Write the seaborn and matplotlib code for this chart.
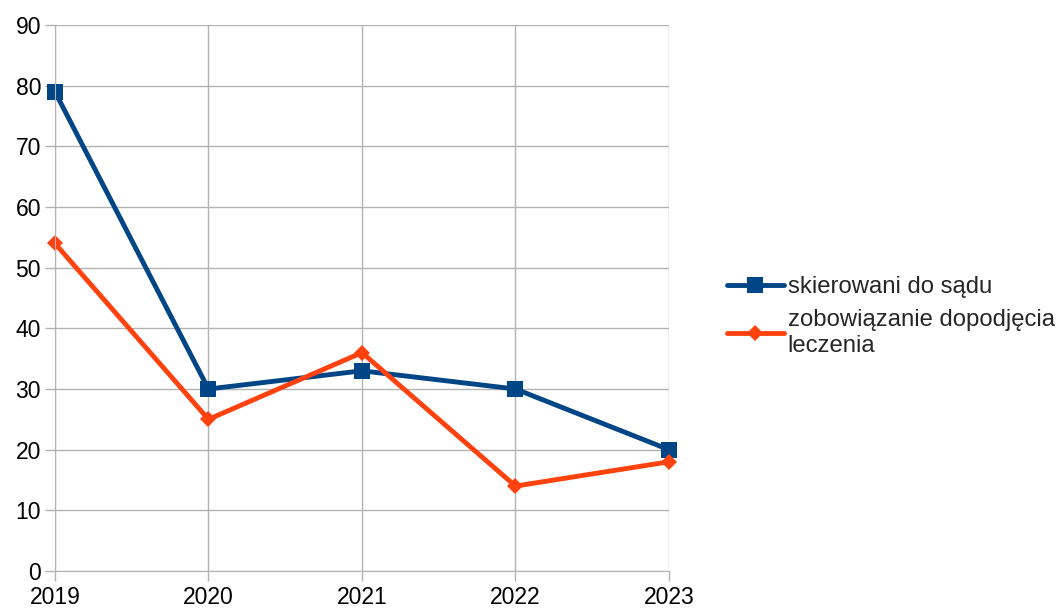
import pandas as pd
import seaborn as sns
import matplotlib.pyplot as plt

years = [2019, 2020, 2021, 2022, 2023]
skierowani = [79, 30, 33, 30, 20]
zobowiazanie = [54, 25, 36, 14, 18]
labels = ["skierowani do sądu", "zobowiązanie dopodjęcia\nleczenia"]

sns.set_style("white")
plt.rcParams['font.family'] = ['Liberation Sans', 'DejaVu Sans']

fig = plt.figure(figsize=(10.61, 6.13), dpi=100)
ax = fig.add_axes([0.0518, 0.0685, 0.5787, 0.8907])

sns.lineplot(x=years, y=skierowani, ax=ax, color="#004586", linewidth=3.5,
             marker="s", markersize=12, markeredgewidth=0, label=labels[0])
sns.lineplot(x=years, y=zobowiazanie, ax=ax, color="#ff420e", linewidth=3.5,
             marker="D", markersize=8, markeredgewidth=0, label=labels[1])
for ln in ax.lines:
    ln.set_clip_on(False)

ax.set_xlim(2019, 2023)
ax.set_ylim(0, 90)
ax.set_xticks(years)
ax.set_xticklabels([str(y) for y in years])
ax.set_yticks(range(0, 91, 10))
ax.grid(True, color="#b3b3b3", linewidth=1)
ax.set_axisbelow(True)
for s in ["top", "right"]:
    ax.spines[s].set_visible(False)
for s in ["left", "bottom"]:
    ax.spines[s].set_color("#b3b3b3")
ax.tick_params(axis="both", labelsize=16.5, colors="#b3b3b3", labelcolor="black",
               length=7, width=1, direction="out", left=True, bottom=True)
ax.tick_params(axis="x", pad=4)
ax.tick_params(axis="y", pad=3)

ax.legend_.remove()
handles, lbls = ax.get_legend_handles_labels()
fig.legend(handles, lbls, loc="upper left", bbox_to_anchor=(0.685, 0.549),
           frameon=False, fontsize=17.2, handlelength=2.4, handletextpad=0.15,
           labelspacing=0.45, borderpad=0, borderaxespad=0)

fig.savefig("out.png", dpi=100)
